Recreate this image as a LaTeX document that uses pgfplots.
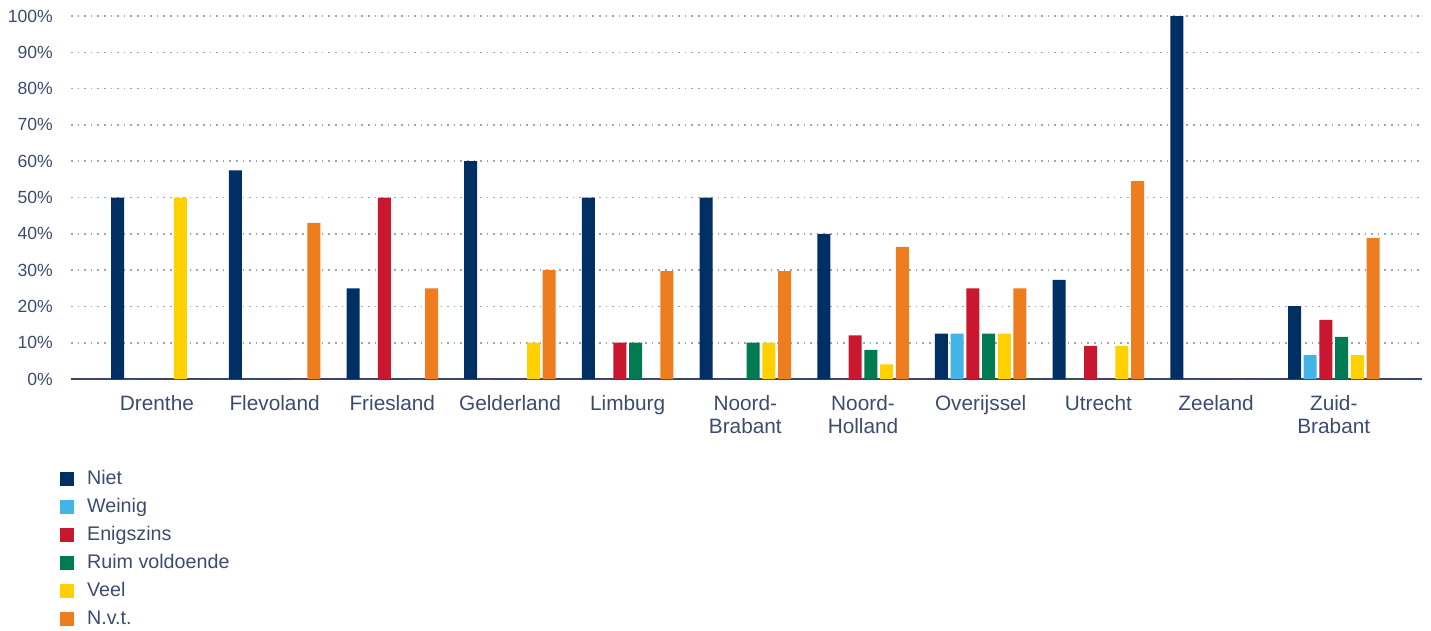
\documentclass[border=0pt]{standalone}
\usepackage{fontspec}
\setmainfont{Liberation Sans}
\usepackage{pgfplots}
\usepackage{pgfplotstable}
\pgfplotsset{compat=1.18}

\definecolor{cNiet}{HTML}{003063}
\definecolor{cWeinig}{HTML}{42B4E6}
\definecolor{cEnig}{HTML}{C8172F}
\definecolor{cRuim}{HTML}{007A50}
\definecolor{cVeel}{HTML}{FFD100}
\definecolor{cNvt}{HTML}{EE7D1F}
\definecolor{textcol}{HTML}{3C4B6E}
\definecolor{gridcol}{HTML}{A0A0C4}
\definecolor{basecol}{HTML}{3A4663}

% percentages per province (0 = no bar)
\pgfplotstableread{
x niet weinig enigszins ruim veel nvt
0 50 0 0 0 50 0
1 57.5 0 0 0 0 43
2 25 0 50 0 0 25
3 60 0 0 0 10 30
4 50 0 10 10 0 29.7
5 50 0 0 10 10 29.7
6 40 0 12 8 4 36.4
7 12.5 12.5 25 12.5 12.5 25
8 27.3 0 9.1 0 9.1 54.5
9 100 0 0 0 0 0
10 20.1 6.6 16.3 11.6 6.6 38.8
}\data

\begin{document}
\begin{tikzpicture}[x=1pt,y=1pt]
\useasboundingbox (0,0) rectangle (1431,630);
\begin{axis}[
    at={(71pt,251pt)}, anchor=south west,
    scale only axis,
    width=1351pt, height=363pt,
    xmin=-0.73, xmax=10.75,
    ymin=0, ymax=100,
    ybar=2.7pt, bar width=13pt,
    axis x line*=bottom, axis y line*=left,
    y axis line style={draw=none},
    x axis line style={line width=2pt, color=basecol},
    major tick length=0pt,
    tick style={draw=none},
    ytick={0,10,...,100},
    yticklabel={\pgfmathparse{int(\tick)}\pgfmathresult\%},
    yticklabel style={font=\fontsize{17.6}{20}\selectfont, text=textcol, anchor=east, inner sep=0pt, xshift=-18pt},
    xtick={0,...,10},
    xticklabels={Drenthe, Flevoland, Friesland, Gelderland, Limburg, {Noord-\\Brabant}, {Noord-\\Holland}, Overijssel, Utrecht, Zeeland, {Zuid-\\Brabant}},
    xticklabel style={font=\fontsize{20.8}{23}\selectfont, text=textcol, align=center, anchor=north, inner sep=0pt, yshift=-16pt},
    ymajorgrids,
    grid style={color=gridcol, line width=1.6pt, dash pattern=on 1.6pt off 5pt},
    legend style={at={(-0.0104,-0.243)}, anchor=north west, draw=none, fill=none,
        font=\fontsize{19.7}{22}\selectfont, text=textcol,
        legend cell align=left, row sep=8pt,
        nodes={inner sep=1pt, text height=14pt, text depth=4pt},
        /tikz/every odd column/.append style={column sep=12pt}},
    legend image code/.code={\fill[#1] (0pt,-7pt) rectangle (14pt,7pt);},
    every axis plot/.append style={draw=none},
]
\addplot[fill=cNiet] table[x=x, y=niet] {\data};
\addplot[fill=cWeinig] table[x=x, y=weinig] {\data};
\addplot[fill=cEnig] table[x=x, y=enigszins] {\data};
\addplot[fill=cRuim] table[x=x, y=ruim] {\data};
\addplot[fill=cVeel] table[x=x, y=veel] {\data};
\addplot[fill=cNvt] table[x=x, y=nvt] {\data};
\legend{Niet, Weinig, Enigszins, Ruim voldoende, Veel, N.v.t.}
\end{axis}
\end{tikzpicture}
\end{document}
